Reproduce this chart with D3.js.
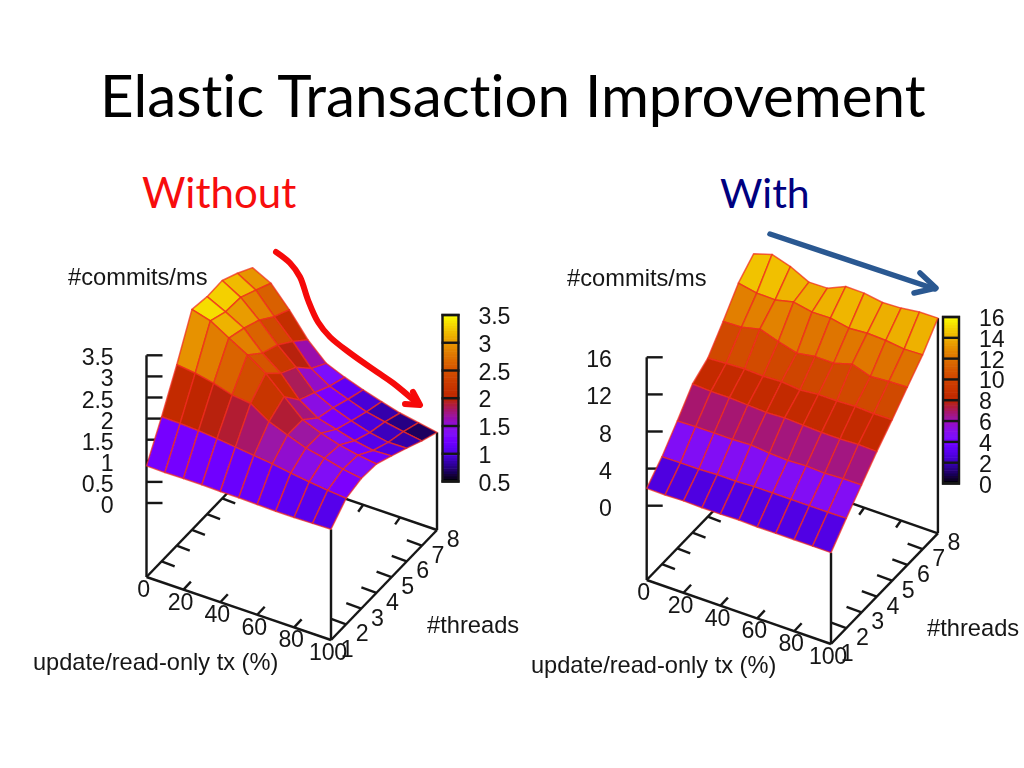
<!DOCTYPE html>
<html><head><meta charset="utf-8">
<script src="https://cdnjs.cloudflare.com/ajax/libs/d3/7.8.5/d3.min.js"></script>
<style>html,body{margin:0;padding:0;background:#fff}svg{display:block}text{font-family:"Liberation Sans",Arial,sans-serif}</style>
</head><body><svg id="c" width="1024" height="768"></svg>
<script>
// ---- data: one row of z values per thread count, x = 0,10..100 % ----
const xValues=[0,10,20,30,40,50,60,70,80,90,100];
const threads=[1,2,3,4,5,6,7,8];
const xTickLabels=[0,20,40,60,80,100];
const left1=[.88,.87,.88,.88,.87,.87,.86,.85,.85,.86,.87];
const left2=[1.67,1.66,1.64,1.60,1.55,1.50,1.45,1.38,1.32,1.27,1.23];
const left3=[2.53,2.48,2.39,2.26,2.21,1.93,1.76,1.60,1.51,1.40,1.33];
const left4=[3.47,3.35,3.09,2.84,2.55,2.15,1.75,1.58,1.45,1.36,1.30];
const left5=[3.40,3.19,2.95,2.51,2.18,1.70,1.42,1.30,1.18,1.10,1.12];
const left6=[3.41,3.16,2.77,2.33,1.95,1.50,1.29,1.13,1.00,.92,.93];
const left7=[3.21,2.96,2.48,2.04,1.55,1.28,1.12,.97,.88,.80,.73];
const left8=[2.97,2.75,2.27,1.71,1.30,1.12,.97,.84,.72,.64,.56];
const right1=[1.87,1.85,1.90,1.85,1.85,1.90,1.85,1.85,1.85,1.85,1.84];
const right2=[3.58,3.60,3.60,3.70,3.70,3.80,3.80,3.80,3.80,3.80,3.83];
const right3=[5.73,5.80,5.80,5.80,5.90,5.70,5.60,5.70,5.60,5.70,5.73];
const right4=[8.01,7.90,7.90,7.80,7.70,7.80,7.70,7.60,7.60,7.70,7.62];
const right5=[9.08,9.20,9.30,9.20,9.30,9.10,9.30,9.30,9.40,9.30,9.33];
const right6=[11.33,11.41,11.89,11.24,10.68,11.00,10.98,11.56,10.92,11.07,11.15];
const right7=[13.76,13.38,13.34,13.79,13.40,13.44,13.05,13.20,13.10,12.86,12.93];
const right8=[15.22,15.84,15.23,14.24,14.28,15.15,15.12,14.80,14.89,15.15,15.19];
const leftZTicks=[0,.5,1,1.5,2,2.5,3,3.5];
const rightZTicks=[0,4,8,12,16];
const leftCbTicks=[.5,1,1.5,2,2.5,3,3.5];
const rightCbTicks=[0,2,4,6,8,10,12,14,16];
const titleText="Elastic Transaction Improvement";
const leftHeading="Without", rightHeading="With";
const zAxisTitle="#commits/ms", xAxisTitle="update/read-only tx (%)", yAxisTitle="#threads";

const svg=d3.select("#c");
const defs=svg.append("defs");
defs.append("filter").attr("id","soft").append("feGaussianBlur").attr("stdDeviation",0.55);
const ink="#161616";

// gnuplot-style pm3d palette, red channel tuned to the photographed slide's tones
const redChannel=d3.scaleLinear().domain([0,.26,.53,.83,1]).range([0,120,195,232,252]);
function palette(f){
  f=Math.max(0,Math.min(1,f));
  return d3.rgb(redChannel(f),255*Math.pow(f,2.8),255*Math.max(0,Math.sin(2*Math.PI*f)));
}

function drawChart(cfg){
  const g=svg.append("g").attr("filter","url(#soft)");
  const fx=d3.scaleLinear().domain([0,100]).range([0,1]);
  const ft=d3.scaleLinear().domain([1,8]).range([0,1]);
  const fz=d3.scaleLinear().domain([0,cfg.zMax]).range([cfg.lift,cfg.lift+cfg.zPx]);
  const G=(x,t,zoff=0)=>[
    cfg.o[0]+fx(x)*cfg.vx[0]+ft(t)*cfg.vt[0],
    cfg.o[1]+fx(x)*cfg.vx[1]+ft(t)*cfg.vt[1]-zoff];
  const P=(x,t,z)=>G(x,t,fz(z));
  const seg=(a,b,w=2.4)=>g.append("line").attr("x1",a[0]).attr("y1",a[1]).attr("x2",b[0]).attr("y2",b[1])
      .attr("stroke",ink).attr("stroke-width",w);
  const txt=(s,x,y,anchor="middle",size=23.2,ls=-0.2)=>g.append("text").text(s).attr("x",x).attr("y",y)
      .attr("text-anchor",anchor).attr("dominant-baseline","central")
      .attr("font-size",size).attr("fill",ink).attr("letter-spacing",ls);

  // ground frame
  seg(G(0,1),G(100,1)); seg(G(100,1),G(100,8)); seg(G(0,1),G(0,8)); seg(G(0,8),G(100,8));
  // z axis and ticks
  seg(G(0,1),P(0,1,cfg.zMax));
  seg(G(100,1),P(100,1,cfg.rows[0][10]));
  seg(G(100,8),P(100,8,cfg.rows[7][10]));
  cfg.zTicks.forEach(z=>{
    const p=P(0,1,z); seg(p,[p[0]+16,p[1]]);
    txt(z,p[0]-cfg.zLabelDx,p[1]+2,"end");
  });
  // x ticks
  xTickLabels.forEach(v=>{
    const a=G(v,1), b=[a[0]+7.5,a[1]-8]; if(v>0&&v<100) seg(a,b);
    const c=G(v,8), d=[c[0]-5,c[1]+7]; if(v>0&&v<100) seg(c,d);
    txt(v,a[0]-3,a[1]+12);
  });
  // thread ticks
  threads.forEach(t=>{
    const a=G(100,t), b=[a[0]-15,a[1]-5.5]; if(t>1&&t<8) seg(a,b);
    const c=G(0,t), d=[c[0]+13,c[1]+5]; if(t>1&&t<8) seg(c,d);
    txt(t,a[0]+16,a[1]+9);
  });

  // surface, painted back to front
  const cells=[];
  for(let j=threads.length-2;j>=0;j--) for(let i=0;i<xValues.length-1;i++) cells.push({i,j});
  const line=d3.line();
  g.selectAll("path.cell").data(cells).join("path").attr("class","cell")
    .attr("d",c=>{
      const {i,j}=c;
      return line([P(xValues[i],threads[j],cfg.rows[j][i]),P(xValues[i+1],threads[j],cfg.rows[j][i+1]),
                   P(xValues[i+1],threads[j+1],cfg.rows[j+1][i+1]),P(xValues[i],threads[j+1],cfg.rows[j+1][i])])+"Z";
    })
    .attr("fill",c=>{
      const {i,j}=c;
      const m=d3.mean([cfg.rows[j][i],cfg.rows[j][i+1],cfg.rows[j+1][i+1],cfg.rows[j+1][i]]);
      return palette((m-cfg.cb[0])/(cfg.cb[1]-cfg.cb[0]));
    })
    .attr("stroke","#f02a1c").attr("stroke-opacity",0.72).attr("stroke-width",1.5).attr("stroke-linejoin","round");

  // colour box
  const cy=d3.scaleLinear().domain(cfg.cb).range([cfg.box.y1,cfg.box.y0]);
  const n=64, band=d3.range(n).map(k=>cfg.cb[0]+(cfg.cb[1]-cfg.cb[0])*k/n);
  const step=(cfg.cb[1]-cfg.cb[0])/n;
  g.selectAll("rect.cb").data(band).join("rect").attr("class","cb")
    .attr("x",cfg.box.x).attr("width",cfg.box.w)
    .attr("y",v=>cy(v+step)-0.3).attr("height",v=>cy(v)-cy(v+step)+0.6)
    .attr("fill",v=>palette((v+step/2-cfg.cb[0])/(cfg.cb[1]-cfg.cb[0])));
  g.append("rect").attr("x",cfg.box.x).attr("y",cfg.box.y0).attr("width",cfg.box.w).attr("height",cfg.box.y1-cfg.box.y0)
    .attr("fill","none").attr("stroke",ink).attr("stroke-width",2.4);
  cfg.cbTicks.forEach(v=>{
    seg([cfg.box.x-1,cy(v)],[cfg.box.x+cfg.box.w+1,cy(v)]);
    txt(v,cfg.box.x+cfg.labelDx,cy(v)+1,"start");
  });

  // axis titles
  txt(zAxisTitle,cfg.zt[0],cfg.zt[1],"start",23.7,0);
  txt(xAxisTitle,cfg.xt[0],cfg.xt[1],"start",23.6,0);
  txt(yAxisTitle,cfg.yt[0],cfg.yt[1],"start",23.7,0);
}

drawChart({
  rows:[left1,left2,left3,left4,left5,left6,left7,left8],
  o:[146.5,577],vx:[184.5,63],vt:[106,-110],lift:74,zMax:3.5,zPx:147.7,zLabelDx:33,
  zTicks:leftZTicks,cb:[.5,3.5],cbTicks:leftCbTicks,
  box:{x:442.5,w:16,y0:315,y1:481.5},labelDx:36,
  zt:[68,277],xt:[33,662],yt:[427,625]
});
drawChart({
  rows:[right1,right2,right3,right4,right5,right6,right7,right8],
  o:[646.7,580],vx:[184.3,64],vt:[106.9,-110.7],lift:74.3,zMax:16,zPx:148.4,zLabelDx:35,
  zTicks:rightZTicks,cb:[0,16],cbTicks:rightCbTicks,
  box:{x:943,w:16,y0:317,y1:483.5},labelDx:36,
  zt:[567,278],xt:[531,665],yt:[927,628]
});

// slide text
const slideFont='Lato,"Open Sans",sans-serif';
svg.append("text").text(titleText).attr("x",100).attr("y",117).attr("font-size",58.3)
  .style("font-family",slideFont).style("font-variant-ligatures","none").attr("fill","#000");
svg.append("text").text(leftHeading).attr("x",142).attr("y",208).attr("font-size",42)
  .style("font-family",slideFont).style("font-variant-ligatures","none").attr("fill","#f70d0d");
svg.append("text").text(rightHeading).attr("x",720).attr("y",208).attr("font-size",41)
  .style("font-family",slideFont).style("font-variant-ligatures","none").attr("fill","#00007f");

// annotation arrows
const curve=d3.line().curve(d3.curveCatmullRom);
const arrow=(pts,head,col,w)=>{
  const a=svg.append("g").attr("fill","none").attr("stroke",col).attr("stroke-width",w)
    .attr("stroke-linecap","round").attr("stroke-linejoin","round");
  a.append("path").attr("d",curve(pts));
  a.append("path").attr("d",d3.line()(head));
};
arrow([[276,252],[290,263],[300,277],[308,300],[318,322],[330,337],[350,353],[377,372],[393,383],[417,403]],
      [[413,392],[420,405],[405,404]],"#f60a0a",6);
arrow([[770,234],[935,289]],[[920,273],[936,288],[914,293]],"#2a5891",5.5);
</script></body></html>
